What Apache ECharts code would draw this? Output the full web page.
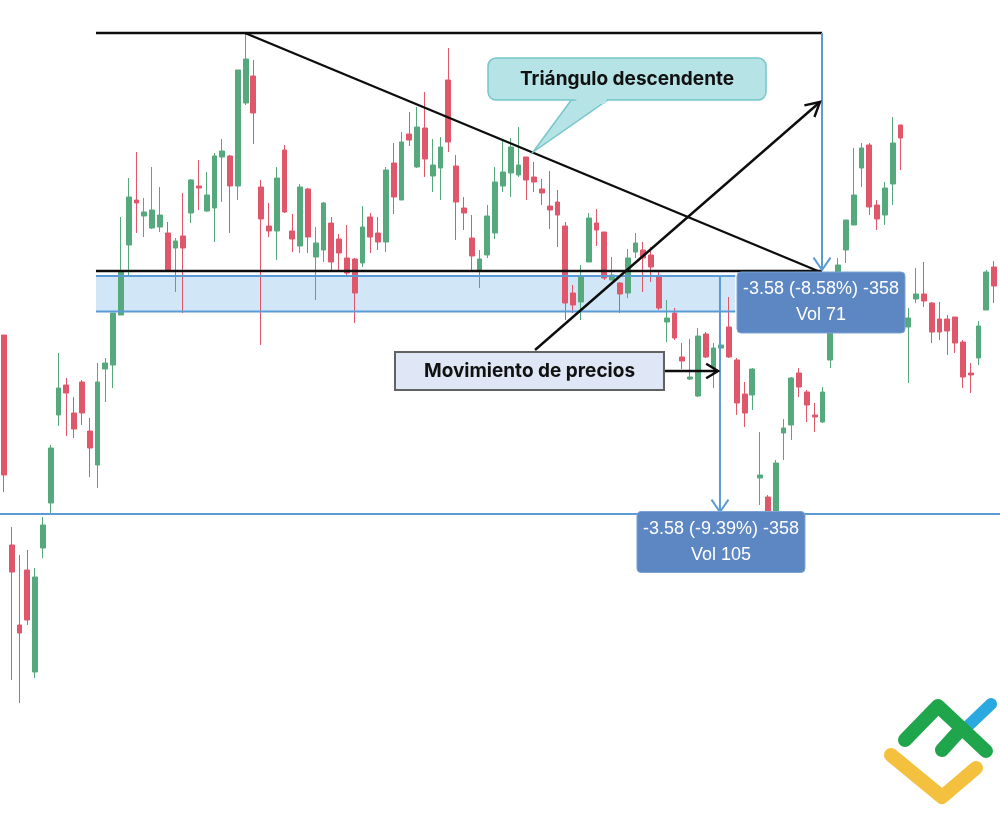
<!DOCTYPE html>
<html><head><meta charset="utf-8">
<script src="https://cdn.jsdelivr.net/npm/echarts@6/dist/echarts.min.js"></script>
<style>html,body{margin:0;padding:0;background:#fff}#c{width:1000px;height:818px}</style>
</head><body><div id="c"></div>
<script>
// ---- data (price units; no axis shown in the reference) ----
const openPrices = [46.5,25.5,17.5,23,12.8,25.2,29.7,38.5,41.5,38.7,41.8,36.9,33.5,43.1,43.5,48.5,55.5,60,58.4,57.2,
57.3,56.7,55.2,56.4,58.7,61.4,58.9,59.2,64.3,64.4,61.4,69.7,72.4,61.3,57.4,56.9,65,56.9,55.4,61.1,
54.3,55,57.7,56.1,54.2,54.1,53.7,58.3,56.7,55.8,63.7,60,66.6,63.3,67.2,62.4,63.2,72,63.4,59.2,
56.2,53,54.5,56.7,61.4,62.7,62.5,64.3,62.3,61.1,59.4,59.8,57.4,50.7,49.8,53.8,57.7,56.8,52,51.7,
50.7,54.8,55,54.5,52.3,47.8,48.7,44.3,42.1,40.4,46.6,43.2,45.2,47.3,44,40.6,40.5,32.2,30.3,28.5,
36.7,37.5,42.7,40.8,38.5,37.8,44,50.5,55,57.5,63.2,65.5,59.5,58.5,61.6,67.5,47.3,50.1,50.6,49.7,
48.1,48.1,48.3,45.8,42.7,44.2,49,53.3];
const closePrices = [32.5,22.8,16.7,18,22.3,27.5,35.2,41.2,40.7,37.1,38.7,35.2,41.8,43.7,48.7,52.8,60.3,59.7,58.8,59,
58.5,53,55.9,55.2,62,61.2,60.5,64.4,64.9,61.4,73,74.1,68.7,58.1,56.9,62.2,58.8,56.1,61.3,56.3,
55.7,59.7,53.8,54.7,52.7,50.7,57.3,56.3,55.8,63,60.3,65.8,66,67.3,64.1,63.5,65.3,65.8,59.8,58.7,
54.4,54.1,58.4,61.8,62.8,65.3,63.5,62,61.8,60.7,59,58.5,49.7,49.5,52.3,58.2,57,52.2,52.5,50.6,
54.2,55.7,54.2,53.3,49.2,48.2,46.2,43.9,42.3,46.4,44.3,45.2,45.5,44.3,39.7,38.7,43.1,32.5,28.6,33.7,
37.2,42.2,41.3,39.5,38.3,40.8,46.7,53.5,58,60.5,65.2,59.3,58.1,61.2,65.7,66.2,48.2,50.6,49.9,46.8,
46.8,46.9,45.7,42.3,42.5,47.4,52.8,51.4];
const lowPrices = [30.8,12,9.7,17.5,12.2,24.2,28.7,37.4,36.4,36.2,37.5,32.3,31.2,39.8,41.2,48.5,52.3,56.7,56.3,57.1,
56.8,53,50.8,48.7,57.7,59,58.8,55.8,59.8,56.7,60,69.5,65.6,45.5,56.3,54,58.7,54.8,54.7,54.7,
50,53.8,53,53,52.5,47.7,53.3,54.7,55,54.8,58.6,60,65.4,63.2,62.3,60.8,60,64.8,56,57,
53,51.2,54.2,56.1,60.8,60.3,62.3,60,60.8,59.5,57.1,55.3,48,48.7,48,53.8,55.4,52,52,48.7,
50.2,54.2,50.8,51.8,49,45.8,46,43.1,42,40.3,44.2,41.2,44,44.2,38.5,37.3,39,29.5,28.4,28.3,
34,36,40.3,37.8,36.8,37.7,43.2,49.5,53.7,57.5,61.3,58.5,57,57.5,59.5,63,41.7,49.7,49.3,45.7,
46,44.5,44.7,41.2,40.7,43.5,49,49.7];
const highPrices = [46.5,27.3,24.5,25,23.2,28.3,35.5,44.7,42.2,40.3,42,38.2,43.7,44.2,48.7,58.3,62.2,64.8,60.2,63.3,
61.3,57.8,56.2,60.7,62.1,64,62.8,64.7,66.1,64.5,73,76.7,74,62,59.7,63.3,65.5,58.6,61.6,61.2,
57.3,59.8,58.3,56.6,57.5,54.2,59.4,58.7,58.3,63.3,65.7,66.8,68.8,69.3,70.8,66.1,66.3,75.2,64.5,60.3,
58.5,55,59.5,63.3,66,66.2,67.3,64.3,63.8,62.1,62.9,61,57.8,51.5,53.5,58.7,59.1,56.8,54.3,51.8,
55.1,56.7,55.8,55.3,53,50,49.2,45.7,46.1,47.2,46.8,45.7,46.5,50.3,44.2,41.8,43.2,36.8,30.5,34,
38.1,42.3,43.2,41,39.7,41.3,48,54.2,58,65.2,65.7,65.7,60,61.8,68.3,67.5,49.2,53.2,53.8,49.8,
49.8,48.5,48.3,46,43.7,47.9,53,53.9];
const categories = openPrices.map((_, i) => 'D' + (i + 1));

// annotation anchors in data units [candle index, price]
const resistanceLine = [[11.81, 76.7], [104.93, 76.7]];
const descendingLine = [[30.92, 76.7], [104.4, 52.9]];
const supportLine = [[11.81, 52.9], [104.93, 52.9]];
const supportZone = {x0: 11.81, x1: 93.8, top: 52.4, bottom: 48.85};
const heightArrow = [[104.93, 76.7], [104.93, 53.0]];
const projectionArrow = [[91.84, 52.4], [91.84, 28.8]];
const targetPrice = 28.6;
const moveArrow = [[68.12, 45.0], [104.67, 69.8]];
const pointerArrow = [[84.66, 42.9], [91.6, 42.9]];
const labelTexts = {
  triangle: 'Triángulo descendente',
  move: 'Movimiento de precios',
  info1: '-3.58 (-8.58%) -358\nVol 71',
  info2: '-3.58 (-9.39%) -358\nVol 105'
};

const GREEN = '#56a97c', RED = '#e0566a', BLUE = '#5b9bd5', BLACK = '#0d0d0d';

const chart = echarts.init(document.getElementById('c'), null, {renderer: 'canvas'});
chart.setOption({
  animation: false,
  backgroundColor: '#ffffff',
  grid: {left: 0, top: 0, width: 998, height: 818, containLabel: false},
  xAxis: [
    {type: 'category', data: categories, show: false, boundaryGap: true},
    {type: 'value', min: -0.5, max: 127.5, show: false}
  ],
  yAxis: {type: 'value', min: -1.8, max: 80, show: false},
  series: [{
    type: 'candlestick',
    xAxisIndex: 0,
    z: 2,
    barWidth: '68%',
    data: openPrices.map((o, i) => [o, closePrices[i], lowPrices[i], highPrices[i]]),
    itemStyle: {color: GREEN, color0: RED, borderColor: GREEN, borderColor0: RED, borderWidth: 1}
  }, {
    type: 'line', xAxisIndex: 1, data: [], silent: true
  }]
});

const px = v => chart.convertToPixel({xAxisIndex: 1}, v);
const py = v => chart.convertToPixel({yAxisIndex: 0}, v);
const P = pt => [px(pt[0]), py(pt[1])];

function seg(a, b, color, w, z) {
  const [x1, y1] = P(a), [x2, y2] = P(b);
  return {type: 'line', z: z || 10, shape: {x1, y1, x2, y2}, style: {stroke: color, lineWidth: w}};
}
function arrow(a, b, color, w, head, ang) {
  const [x1, y1] = P(a), [x2, y2] = P(b);
  const t = Math.atan2(y2 - y1, x2 - x1), h = ang || Math.PI / 5;
  const h1 = [x2 - head * Math.cos(t - h), y2 - head * Math.sin(t - h)];
  const h2 = [x2 - head * Math.cos(t + h), y2 - head * Math.sin(t + h)];
  return [
    {type: 'line', z: 10, shape: {x1, y1, x2, y2}, style: {stroke: color, lineWidth: w}},
    {type: 'polyline', z: 10, shape: {points: [h1, [x2, y2], h2]}, style: {stroke: color, lineWidth: w, fill: null}}
  ];
}

const g = [];
// support zone
const zx0 = px(supportZone.x0), zx1 = px(supportZone.x1), zy0 = py(supportZone.top), zy1 = py(supportZone.bottom);
g.push({type: 'rect', z: 1, shape: {x: zx0, y: zy0, width: zx1 - zx0, height: zy1 - zy0}, style: {fill: 'rgba(178,214,240,0.6)'}});
g.push(seg([supportZone.x0, supportZone.top], [supportZone.x1, supportZone.top], BLUE, 2, 9));
g.push(seg([supportZone.x0, supportZone.bottom], [supportZone.x1, supportZone.bottom], BLUE, 2, 9));
// target horizontal
g.push({type: 'line', z: 9, shape: {x1: 0, y1: py(targetPrice), x2: 1000, y2: py(targetPrice)}, style: {stroke: BLUE, lineWidth: 2}});
// triangle lines
g.push(seg(resistanceLine[0], resistanceLine[1], BLACK, 2.4));
g.push(seg(descendingLine[0], descendingLine[1], BLACK, 2.4));
g.push(seg(supportLine[0], supportLine[1], BLACK, 2.4));
// arrows
g.push(...arrow(heightArrow[0], heightArrow[1], BLUE, 2, 15, 0.6));
g.push(...arrow(projectionArrow[0], projectionArrow[1], BLUE, 2, 15, 0.6));
g.push(...arrow(moveArrow[0], moveArrow[1], BLACK, 2.4, 16, 0.5));
g.push(...arrow(pointerArrow[0], pointerArrow[1], BLACK, 2.4, 14, 0.55));

// triangle label with callout tail
const tcx = px(79.92), tcy = py(72.1), tw = 278, th = 42;
const tipX = px(67.86), tipY = py(64.8);
g.push({type: 'polygon', z: 20, shape: {points: [[tcx - 55, tcy + th / 2 - 1], [tipX, tipY], [tcx - 18, tcy + th / 2 - 1]]},
  style: {fill: '#b6e3e6', stroke: '#74c6cb', lineWidth: 1.5}});
g.push({type: 'rect', z: 21, shape: {x: tcx - tw / 2, y: tcy - th / 2, width: tw, height: th, r: 8},
  style: {fill: '#b6e3e6', stroke: '#74c6cb', lineWidth: 1.5}});
g.push({type: 'polygon', z: 22, shape: {points: [[tcx - 53, tcy + th / 2 - 2], [tcx - 47, tcy + th / 2 + 4], [tcx - 22, tcy + th / 2 + 4], [tcx - 20, tcy + th / 2 - 2]]},
  style: {fill: '#b6e3e6'}});
g.push({type: 'text', z: 23, x: tcx, y: tcy, style: {text: labelTexts.triangle, fill: '#111', font: 'bold 19px Inter, Roboto, sans-serif', align: 'center', verticalAlign: 'middle'}});

// movement label
const mcx = px(67.41), mcy = py(42.9), mw = 269, mh = 38;
g.push({type: 'rect', z: 21, shape: {x: mcx - mw / 2, y: mcy - mh / 2, width: mw, height: mh},
  style: {fill: '#dfe7f7', stroke: '#626262', lineWidth: 2}});
g.push({type: 'text', z: 23, x: mcx, y: mcy, style: {text: labelTexts.move, fill: '#111', font: 'bold 19px Inter, Roboto, sans-serif', align: 'center', verticalAlign: 'middle'}});

// info boxes
function infoBox(cx, cy, text) {
  const w = 168, h = 61;
  return [
    {type: 'rect', z: 21, shape: {x: cx - w / 2, y: cy - h / 2, width: w, height: h, r: 4}, style: {fill: '#5d87c3', stroke: '#7da3d6', lineWidth: 1}},
    {type: 'text', z: 23, x: cx, y: cy, style: {text: text, fill: '#ffffff', font: '18px "Liberation Sans", Arial, sans-serif', align: 'center', verticalAlign: 'middle', lineHeight: 26}}
  ];
}
g.push(...infoBox(px(104.8), py(49.75), labelTexts.info1));
g.push(...infoBox(px(91.97), py(25.8), labelTexts.info2));

// logo (decorative)
const cap = {lineCap: 'round', lineJoin: 'round', fill: null};
g.push({type: 'polyline', z: 30, shape: {points: [[968, 726], [991, 704]]}, style: Object.assign({stroke: '#2aa8e0', lineWidth: 12}, cap)});
g.push({type: 'polyline', z: 31, shape: {points: [[905, 740], [938, 706], [986, 751]]}, style: Object.assign({stroke: '#1fa64c', lineWidth: 14}, cap)});
g.push({type: 'polyline', z: 31, shape: {points: [[942, 750], [961, 729]]}, style: Object.assign({stroke: '#1fa64c', lineWidth: 14}, cap)});
g.push({type: 'polyline', z: 31, shape: {points: [[891, 755], [942, 797], [976, 768]]}, style: Object.assign({stroke: '#f4c13e', lineWidth: 14}, cap)});

chart.setOption({graphic: {elements: g}});
</script>
</body></html>
